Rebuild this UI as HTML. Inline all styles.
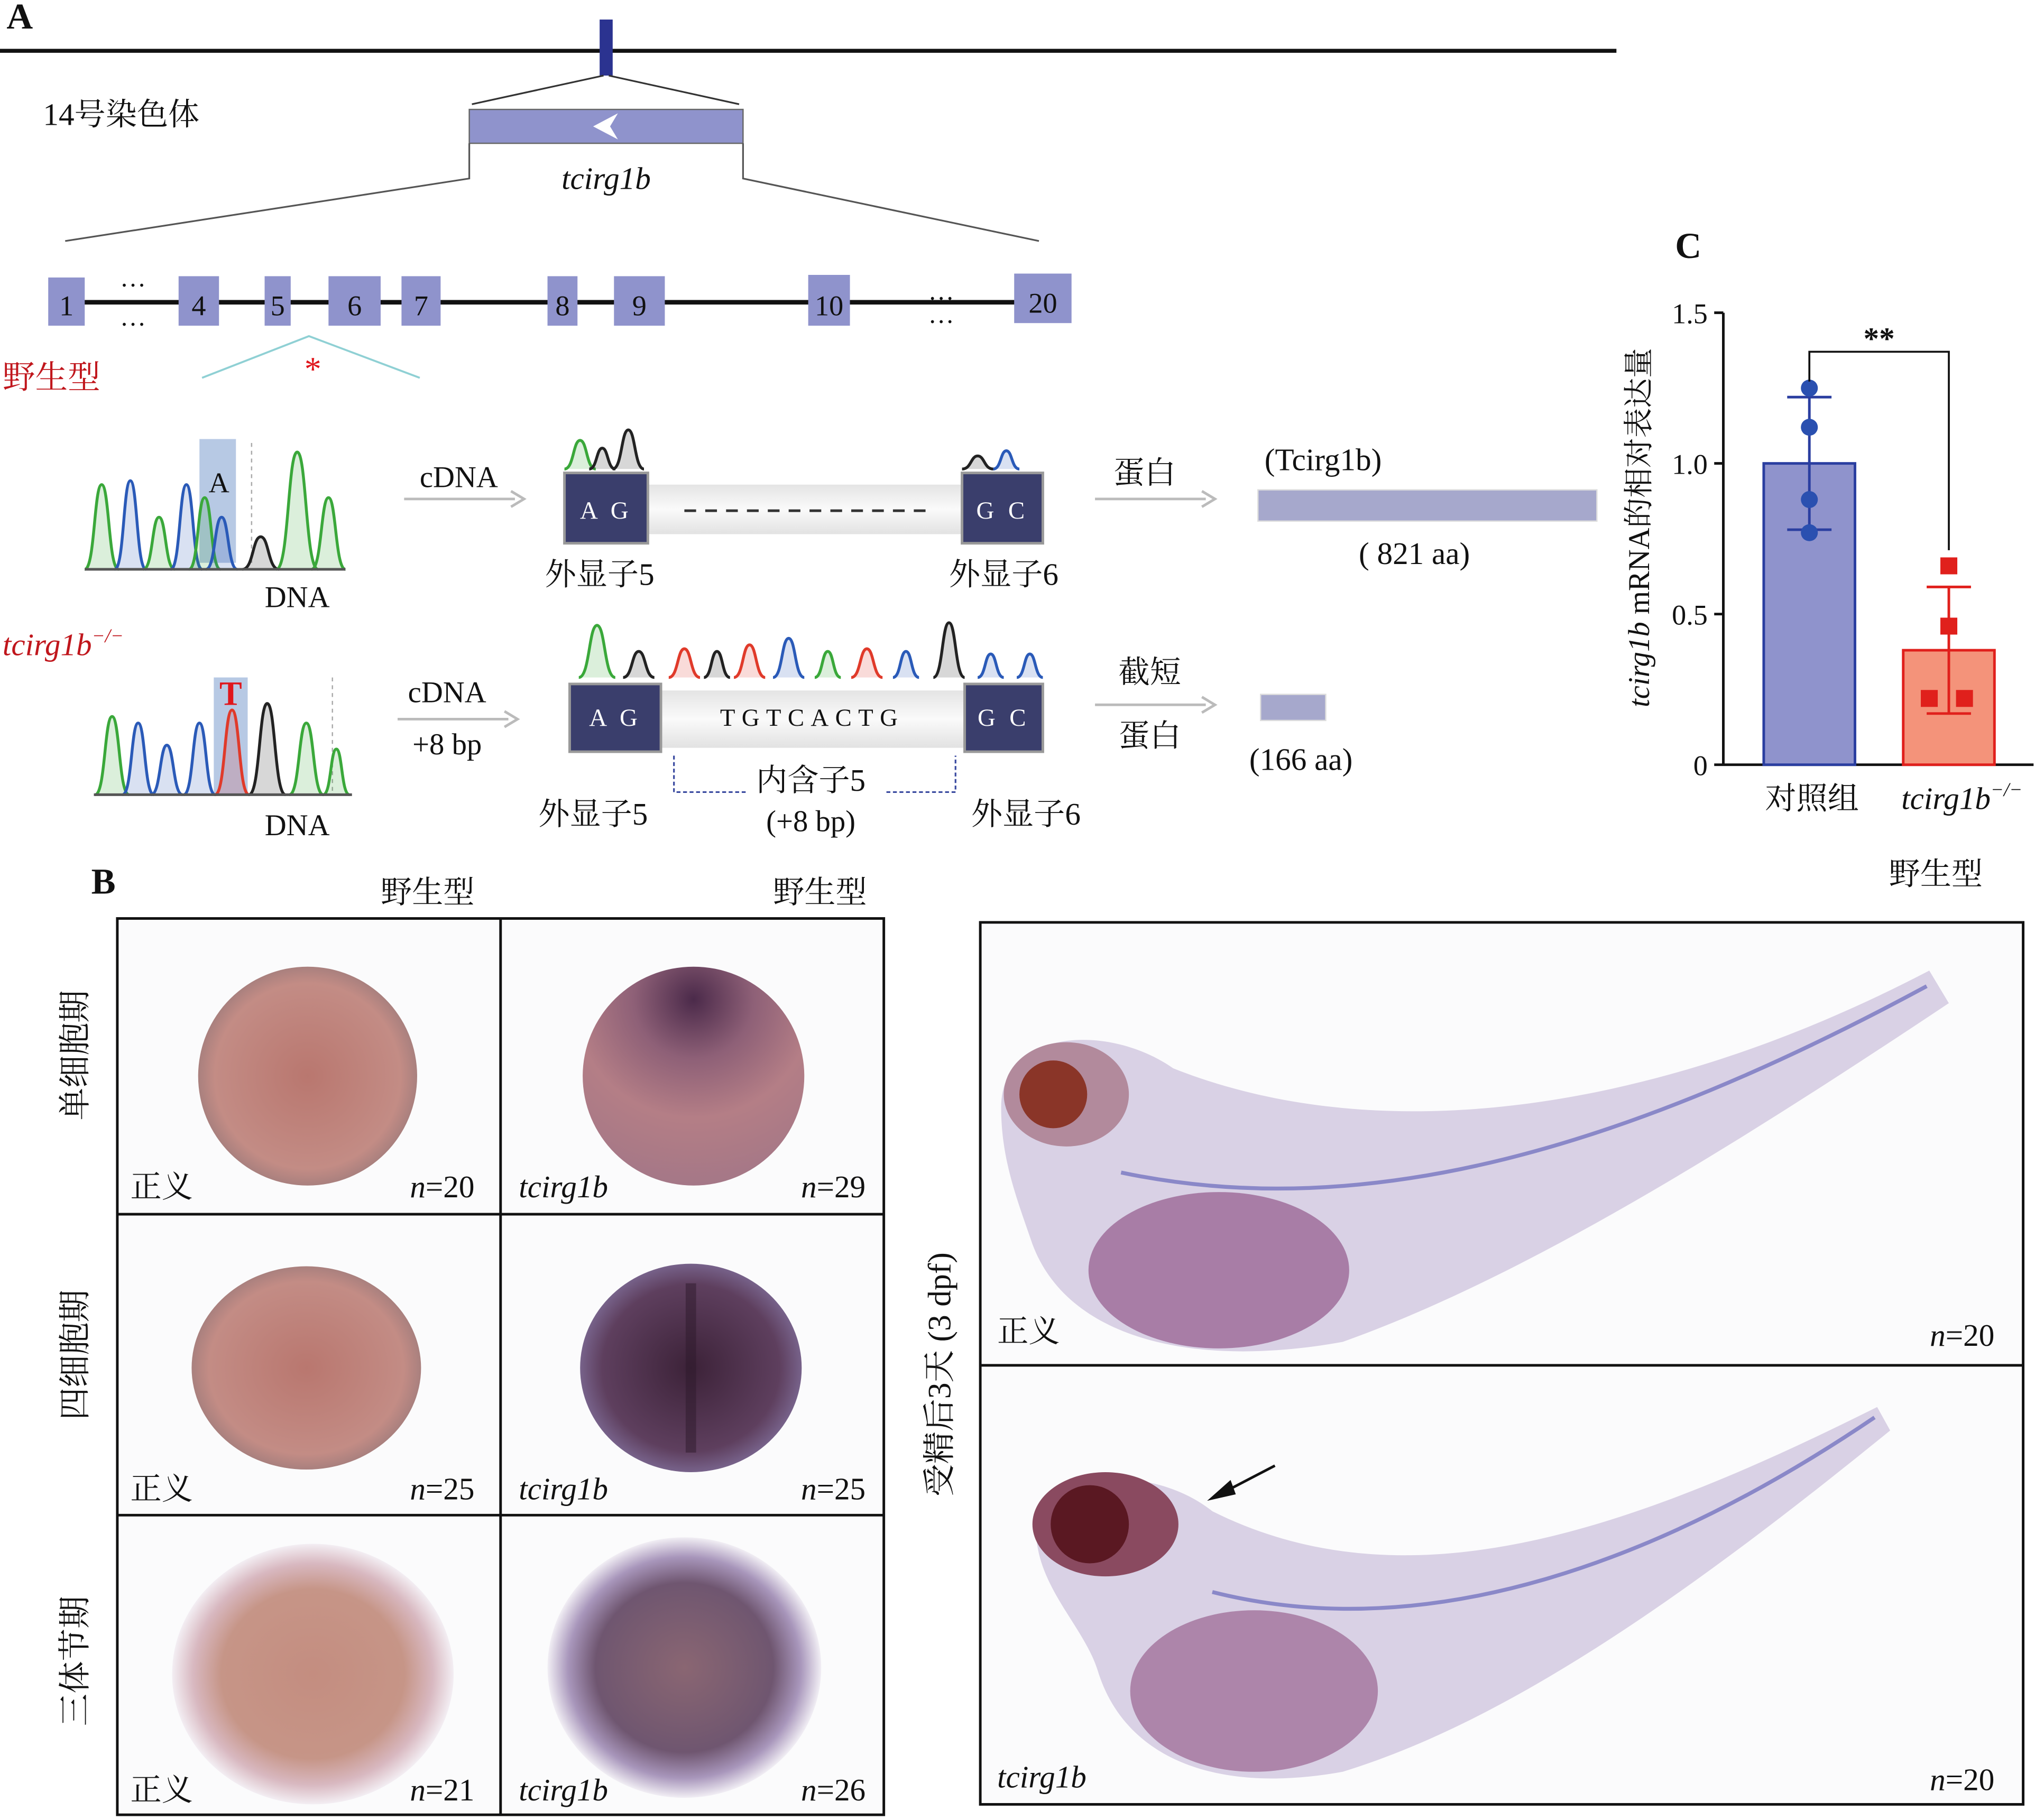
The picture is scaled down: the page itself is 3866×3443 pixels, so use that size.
<!DOCTYPE html>
<html><head><meta charset="utf-8">
<style>
html,body{margin:0;padding:0;background:#fff;}
svg{display:block;}
text{font-family:"Liberation Serif","Noto Serif CJK SC",serif;fill:#111;}
.it{font-style:italic;}
</style></head>
<body>
<svg id="fig" width="3866" height="3443" viewBox="0 0 1568 1397" preserveAspectRatio="none" xmlns="http://www.w3.org/2000/svg">
<defs>
<linearGradient id="mid" x1="0" y1="0" x2="0" y2="1"><stop offset="0" stop-color="#e4e4e4"/><stop offset="0.5" stop-color="#fafafa"/><stop offset="1" stop-color="#e2e2e2"/></linearGradient>
<radialGradient id="embS" cx="0.5" cy="0.5" r="0.5"><stop offset="0" stop-color="#b9776f"/><stop offset="0.85" stop-color="#c38c85"/><stop offset="1" stop-color="#a9807e"/></radialGradient>
<radialGradient id="embT1" cx="0.5" cy="0.15" r="0.9"><stop offset="0" stop-color="#4b2a4a"/><stop offset="0.3" stop-color="#8e6077"/><stop offset="0.6" stop-color="#b47e86"/><stop offset="1" stop-color="#a27687"/></radialGradient>
<radialGradient id="embT2" cx="0.5" cy="0.5" r="0.5"><stop offset="0" stop-color="#3c2238"/><stop offset="0.8" stop-color="#5e3f5e"/><stop offset="1" stop-color="#77628a"/></radialGradient>
<radialGradient id="embS3" cx="0.5" cy="0.5" r="0.5"><stop offset="0" stop-color="#c48d80"/><stop offset="0.65" stop-color="#c69587"/><stop offset="0.85" stop-color="#d8b8c0"/><stop offset="1" stop-color="#f3eef3"/></radialGradient>
<radialGradient id="embT3" cx="0.5" cy="0.5" r="0.5"><stop offset="0" stop-color="#8a6672"/><stop offset="0.65" stop-color="#6f5670"/><stop offset="0.85" stop-color="#a896bb"/><stop offset="1" stop-color="#f1eef4"/></radialGradient>
</defs>

<!-- PANEL A -->
<g>
<text x="5" y="22" font-size="28" font-weight="bold">A</text>
<line x1="0" y1="39" x2="1240" y2="39" stroke="#111" stroke-width="3"/>
<rect x="460" y="15" width="10" height="43" fill="#2b3390"/>
<line x1="463" y1="58" x2="362" y2="80" stroke="#333" stroke-width="1.3"/>
<line x1="467" y1="58" x2="567" y2="80" stroke="#333" stroke-width="1.3"/>
<text x="33" y="96" font-size="24">14号染色体</text>
<rect x="360" y="84" width="210" height="26" fill="#8f93cc" stroke="#666" stroke-width="1"/>
<path d="M474,87 L455,97 L474,107 L468,97 Z" fill="#fff"/>
<text x="465" y="145" font-size="24" text-anchor="middle" class="it">tcirg1b</text>
<polyline points="360,110 360,137 50,185" fill="none" stroke="#555" stroke-width="1.3"/>
<polyline points="570,110 570,137 797,185" fill="none" stroke="#555" stroke-width="1.3"/>
<line x1="40" y1="232" x2="820" y2="232" stroke="#111" stroke-width="3.5"/>
<g id="exons"></g>
<text x="102" y="220" font-size="20" text-anchor="middle">…</text>
<text x="102" y="250" font-size="20" text-anchor="middle">…</text>
<text x="722" y="230" font-size="20" text-anchor="middle">…</text>
<text x="722" y="248" font-size="20" text-anchor="middle">…</text>
<text x="2" y="298" font-size="25" fill="#c0161c" style="fill:#c0161c">野生型</text>
<polyline points="155,290 237,258 322,290" fill="none" stroke="#8fd0d4" stroke-width="1.5"/>
<text x="240" y="292" font-size="26" text-anchor="middle" style="fill:#e0161c">*</text>
<text x="2" y="503" font-size="24" class="it" style="fill:#c0161c">tcirg1b<tspan font-size="15" dy="-10">−/−</tspan></text>

<rect x="153" y="337" width="28" height="95" fill="#b7c9e4"/>
<line x1="193" y1="340" x2="193" y2="432" stroke="#aaa" stroke-dasharray="3,3"/>
<g id="chromA"></g>
<text x="168" y="378" font-size="22" text-anchor="middle">A</text>
<text x="228" y="466" font-size="23" text-anchor="middle">DNA</text>

<rect x="164" y="520" width="26" height="90" fill="#b7c9e4"/>
<line x1="255" y1="520" x2="255" y2="610" stroke="#aaa" stroke-dasharray="3,3"/>
<g id="chromB"></g>
<text x="177" y="541" font-size="26" font-weight="bold" text-anchor="middle" style="fill:#e0161c">T</text>
<text x="228" y="641" font-size="23" text-anchor="middle">DNA</text>

<text x="352" y="374" font-size="23" text-anchor="middle">cDNA</text>
<line x1="310" y1="383" x2="395" y2="383" stroke="#bbb" stroke-width="2"/><path d="M392,377 L402,383 L392,389" fill="none" stroke="#bbb" stroke-width="2"/>
<text x="343" y="539" font-size="23" text-anchor="middle">cDNA</text>
<text x="343" y="579" font-size="23" text-anchor="middle">+8 bp</text>
<line x1="305" y1="552" x2="390" y2="552" stroke="#bbb" stroke-width="2"/><path d="M387,546 L397,552 L387,558" fill="none" stroke="#bbb" stroke-width="2"/>

<g id="chromTopA"></g>
<rect x="497" y="372" width="241" height="38" fill="url(#mid)"/>
<rect x="433" y="363" width="64" height="54" fill="#3a3e6c" stroke="#999" stroke-width="2"/>
<rect x="738" y="363" width="62" height="54" fill="#3a3e6c" stroke="#999" stroke-width="2"/>
<text x="465" y="398" font-size="19" text-anchor="middle" style="fill:#fff" letter-spacing="3">A G</text>
<text x="769" y="398" font-size="19" text-anchor="middle" style="fill:#fff" letter-spacing="3">G C</text>
<line x1="525" y1="392" x2="715" y2="392" stroke="#333" stroke-width="2" stroke-dasharray="9,7"/>
<text x="460" y="449" font-size="24" text-anchor="middle">外显子5</text>
<text x="770" y="449" font-size="24" text-anchor="middle">外显子6</text>

<text x="878" y="371" font-size="24" text-anchor="middle">蛋白</text>
<line x1="840" y1="383" x2="925" y2="383" stroke="#bbb" stroke-width="2"/><path d="M922,377 L932,383 L922,389" fill="none" stroke="#bbb" stroke-width="2"/>
<text x="1015" y="361" font-size="24" text-anchor="middle">(Tcirg1b)</text>
<rect x="965" y="376" width="260" height="24" fill="#a6a8cc" stroke="#ddd"/>
<text x="1085" y="433" font-size="24" text-anchor="middle">( 821 aa)</text>

<g id="chromTopB"></g>
<rect x="507" y="530" width="233" height="44" fill="url(#mid)"/>
<rect x="437" y="525" width="70" height="52" fill="#3a3e6c" stroke="#999" stroke-width="2"/>
<rect x="740" y="525" width="60" height="52" fill="#3a3e6c" stroke="#999" stroke-width="2"/>
<text x="472" y="557" font-size="19" text-anchor="middle" style="fill:#fff" letter-spacing="3">A G</text>
<text x="770" y="557" font-size="19" text-anchor="middle" style="fill:#fff" letter-spacing="3">G C</text>
<text x="623" y="557" font-size="19" text-anchor="middle" letter-spacing="5">TGTCACTG</text>
<polyline points="517,580 517,608 572,608" fill="none" stroke="#3a4aa0" stroke-width="1.3" stroke-dasharray="3,2"/>
<polyline points="680,608 733,608 733,580" fill="none" stroke="#3a4aa0" stroke-width="1.3" stroke-dasharray="3,2"/>
<text x="622" y="607" font-size="24" text-anchor="middle">内含子5</text>
<text x="622" y="638" font-size="23" text-anchor="middle">(+8 bp)</text>
<text x="455" y="633" font-size="24" text-anchor="middle">外显子5</text>
<text x="787" y="633" font-size="24" text-anchor="middle">外显子6</text>

<text x="882" y="524" font-size="24" text-anchor="middle">截短</text>
<line x1="840" y1="541" x2="925" y2="541" stroke="#bbb" stroke-width="2"/><path d="M922,535 L932,541 L922,547" fill="none" stroke="#bbb" stroke-width="2"/>
<text x="882" y="573" font-size="24" text-anchor="middle">蛋白</text>
<rect x="967" y="533" width="50" height="20" fill="#a6a8cc" stroke="#ddd"/>
<text x="998" y="591" font-size="24" text-anchor="middle">(166 aa)</text>
</g>

<!-- PANEL C -->
<g id="panelC">
<text x="1285" y="198" font-size="28" font-weight="bold">C</text>
</g>

<!-- PANEL B -->
<g>
<text x="70" y="686" font-size="28" font-weight="bold">B</text>
<text x="328" y="693" font-size="24" text-anchor="middle">野生型</text>
<text x="629" y="693" font-size="24" text-anchor="middle">野生型</text>
<text x="1485" y="679" font-size="24" text-anchor="middle">野生型</text>
<rect x="90" y="705" width="588" height="688" fill="#fbfbfc"/>
<ellipse cx="236" cy="826" rx="84" ry="84" fill="url(#embS)"/>
<ellipse cx="532" cy="826" rx="85" ry="84" fill="url(#embT1)"/>
<ellipse cx="235" cy="1050" rx="88" ry="78" fill="url(#embS)"/>
<ellipse cx="530" cy="1050" rx="85" ry="80" fill="url(#embT2)"/>
<line x1="530" y1="985" x2="530" y2="1115" stroke="#2e1a2c" stroke-width="8" opacity="0.5"/>
<ellipse cx="240" cy="1285" rx="108" ry="100" fill="url(#embS3)"/>
<ellipse cx="525" cy="1280" rx="105" ry="100" fill="url(#embT3)"/>
<g fill="none" stroke="#111" stroke-width="2">
<rect x="90" y="705" width="588" height="688"/>
<line x1="384" y1="705" x2="384" y2="1393"/>
<line x1="90" y1="932" x2="678" y2="932"/>
<line x1="90" y1="1163" x2="678" y2="1163"/>
</g>
<g font-size="24">
<text x="100" y="919">正义</text><text x="364" y="919" text-anchor="end"><tspan class="it">n</tspan>=20</text>
<text x="398" y="919" class="it">tcirg1b</text><text x="664" y="919" text-anchor="end"><tspan class="it">n</tspan>=29</text>
<text x="100" y="1151">正义</text><text x="364" y="1151" text-anchor="end"><tspan class="it">n</tspan>=25</text>
<text x="398" y="1151" class="it">tcirg1b</text><text x="664" y="1151" text-anchor="end"><tspan class="it">n</tspan>=25</text>
<text x="100" y="1382">正义</text><text x="364" y="1382" text-anchor="end"><tspan class="it">n</tspan>=21</text>
<text x="398" y="1382" class="it">tcirg1b</text><text x="664" y="1382" text-anchor="end"><tspan class="it">n</tspan>=26</text>
</g>
<text transform="translate(66,810) rotate(-90)" font-size="25" text-anchor="middle">单细胞期</text>
<text transform="translate(66,1040) rotate(-90)" font-size="25" text-anchor="middle">四细胞期</text>
<text transform="translate(66,1275) rotate(-90)" font-size="25" text-anchor="middle">三体节期</text>
<text transform="translate(729,1055) rotate(-90)" font-size="25" text-anchor="middle">受精后3天 (3 dpf)</text>

<rect x="752" y="708" width="800" height="677" fill="#fbfbfc"/>
<g>
<path d="M768,850 C768,790 850,785 900,820 C1050,880 1260,860 1480,745 L1495,770 C1330,880 1170,980 1030,1030 C920,1050 820,1030 792,955 C780,920 768,890 768,850 Z" fill="#d9d1e5"/>
<ellipse cx="935" cy="975" rx="100" ry="60" fill="#a87da6"/>
<path d="M860,900 C1050,940 1250,880 1478,757" fill="none" stroke="#8a88c8" stroke-width="3"/>
<ellipse cx="818" cy="840" rx="48" ry="40" fill="#b28a9c"/>
<circle cx="808" cy="840" r="26" fill="#8a3528"/>
</g>
<g>
<path d="M795,1180 C790,1130 880,1120 930,1160 C1080,1235 1250,1175 1440,1080 L1450,1098 C1300,1220 1160,1320 1030,1360 C930,1378 862,1348 842,1282 C832,1250 798,1220 795,1180 Z" fill="#d9d1e5"/>
<ellipse cx="962" cy="1298" rx="95" ry="62" fill="#ad85aa"/>
<path d="M930,1222 C1100,1265 1280,1195 1438,1088" fill="none" stroke="#8a88c8" stroke-width="3"/>
<ellipse cx="848" cy="1170" rx="56" ry="40" fill="#8a4a60"/>
<circle cx="836" cy="1170" r="30" fill="#5a1822"/>
<line x1="978" y1="1125" x2="930" y2="1150" stroke="#111" stroke-width="2"/>
<path d="M926,1152 L944,1136 L948,1147 Z" fill="#111"/>
</g>
<g fill="none" stroke="#111" stroke-width="2">
<rect x="752" y="708" width="800" height="677"/>
<line x1="752" y1="1048" x2="1552" y2="1048"/>
</g>
<text x="765" y="1030" font-size="24">正义</text>
<text x="1530" y="1033" font-size="24" text-anchor="end"><tspan class="it">n</tspan>=20</text>
<text x="765" y="1372" font-size="24" class="it">tcirg1b</text>
<text x="1530" y="1374" font-size="24" text-anchor="end"><tspan class="it">n</tspan>=20</text>
</g>
</svg>

<script>
// ---- Panel C data ----
const groups = ["对照组", "tcirg1b"];
const means = [1.0, 0.38];
const sds = [0.22, 0.21];
const pointsCtrl = [1.25, 1.12, 0.88, 0.77];
const pointsMut = [0.66, 0.46, 0.22, 0.22];
const yTicks = [0, 0.5, 1.0, 1.5];
const yTickLabels = ["0", "0.5", "1.0", "1.5"];

const NS = "http://www.w3.org/2000/svg";
function mk(tag, attrs, parent, txt){
  const e = document.createElementNS(NS, tag);
  for (const k in attrs) e.setAttribute(k, attrs[k]);
  if (txt !== undefined) e.textContent = txt;
  parent.appendChild(e); return e;
}
const C = document.getElementById("panelC");
const y0 = 587, yPerUnit = 231.3, axX = 1322;
function yS(v){ return y0 - v * yPerUnit; }
const barCenters = [1388, 1495];
function xS(i){ return barCenters[i]; }
const barW = 70;
const fills = ["#8f93cc", "#f4937a"], strokes = ["#2a3ea0", "#e0201c"], ptCol = ["#2a50b0", "#e0201c"];

let ax = mk("line", {x1:axX, y1:yS(1.5), x2:axX, y2:y0, stroke:"#111", "stroke-width":2}, C);
 
let xa = mk("line", {x1:axX, y1:y0, x2:1560, y2:y0, stroke:"#111", "stroke-width":2}, C);
 
yTicks.forEach((t, i) => {
  mk("line", {x1:axX-7, y1:yS(t), x2:axX, y2:yS(t), stroke:"#111", "stroke-width":2}, C);
  const tl = mk("text", {x:axX-12, y:yS(t)+8, "font-size":22, "text-anchor":"end"}, C, yTickLabels[i]);
   
});
const yl = mk("text", {transform:"translate(1265,405) rotate(-90)", "font-size":23, "text-anchor":"middle"}, C);
 
mk("tspan", {"font-style":"italic"}, yl, "tcirg1b");
mk("tspan", {}, yl, " mRNA的相对表达量");

[pointsCtrl, pointsMut].forEach((pts, i) => {
  const cx = xS(i);
  const b = mk("rect", {x:cx-barW/2, y:yS(means[i]), width:barW, height:y0-yS(means[i]), fill:fills[i], stroke:strokes[i], "stroke-width":2}, C);
  
  
  const hi = yS(means[i]+sds[i]), lo = yS(means[i]-sds[i]);
  const eb = mk("path", {d:`M${cx},${hi} L${cx},${lo} M${cx-17},${hi} L${cx+17},${hi} M${cx-17},${lo} L${cx+17},${lo}`, stroke:strokes[i], "stroke-width":2, fill:"none"}, C);
  
  
  pts.forEach((v, j) => {
    let px = cx;
    if (i===1 && j>=2) px = cx + (j===2 ? -15 : 12);
    let p;
    if (i===0) p = mk("circle", {cx:px, cy:yS(v), r:6.5, fill:ptCol[i]}, C);
    else p = mk("rect", {x:px-6.5, y:yS(v)-6.5, width:13, height:13, fill:ptCol[i]}, C);
    
    
  });
});
const topY = 270;
const br = mk("path", {d:`M${xS(0)},${yS(pointsCtrl[0])-5} L${xS(0)},${topY} L${xS(1)},${topY} L${xS(1)},${yS(pointsMut[0])-12}`, stroke:"#111", "stroke-width":1.5, fill:"none"}, C);
 
const st = mk("text", {x:(xS(0)+xS(1))/2, y:topY-2, "font-size":24, "text-anchor":"middle", "font-weight":"bold"}, C, "**");
 
const g0 = mk("text", {x:xS(0)+2, y:621, "font-size":24, "text-anchor":"middle"}, C, groups[0]);
 
const g1 = mk("text", {x:xS(1)+10, y:621, "font-size":24, "text-anchor":"middle", "font-style":"italic"}, C);
 
mk("tspan", {}, g1, groups[1]);
mk("tspan", {"font-size":15, dy:-10}, g1, "−/−");

const EX = document.getElementById("exons");
[["1",37,65,213,250],["4",137,168,212,250],["5",203,223,212,250],["6",252,292,212,250],["7",308,338,212,250],["8",420,443,212,250],["9",471,510,212,250],["10",620,652,211,250],["20",778,822,210,248]].forEach(e => {
  const r = mk("rect", {x:e[1], y:e[3], width:e[2]-e[1], height:e[4]-e[3], fill:"#8f93cc"}, EX);
  
  
  mk("text", {x:(e[1]+e[2])/2, y:e[4]-8, "font-size":22, "text-anchor":"middle"}, EX, e[0]);
});

function chrom(id, base, peaks){
  const g = document.getElementById(id);
  peaks.forEach(p => {
    const [x, h, c, w] = p; const hw = w || 12;
    const d = `M${x-hw},${base} C${x-hw*0.4},${base} ${x-hw*0.45},${base-h} ${x},${base-h} C${x+hw*0.45},${base-h} ${x+hw*0.4},${base} ${x+hw},${base}`;
    mk("path", {d:d+" Z", fill:c, "fill-opacity":0.18, stroke:"none"}, g);
    mk("path", {d:d, fill:"none", stroke:c, "stroke-width":2.2}, g);
  });
}
const G="#3aa83a", B="#2a5ab8", K="#222", R="#e03a2a";
chrom("chromA", 437, [[78,65,G,13],[100,68,B],[122,40,G],[143,65,B],[157,55,G],[170,40,B],[200,25,K,14],[228,90,G,16],[252,55,G,13]]);
mk("line", {x1:65,y1:437,x2:265,y2:437,stroke:"#555","stroke-width":2}, document.getElementById("chromA"));
chrom("chromB", 610, [[86,60,G,13],[106,55,B],[128,38,B],[153,55,B],[178,65,R,13],[205,70,K,14],[235,55,G,13],[258,35,G,10]]);
mk("line", {x1:72,y1:610,x2:270,y2:610,stroke:"#555","stroke-width":2}, document.getElementById("chromB"));
chrom("chromTopA", 360, [[445,22,G,12],[462,16,K,10],[482,30,K,12],[750,10,K,12],[772,14,B,10]]);
chrom("chromTopB", 520, [[458,40,G,14],[490,20,K,12],[525,22,R,12],[550,20,K,10],[575,25,R,12],[605,30,B,12],[635,20,G,10],[665,22,R,12],[695,20,B,10],[728,42,K,12],[760,18,B,10],[790,18,B,10]]);
</script>
</body></html>
